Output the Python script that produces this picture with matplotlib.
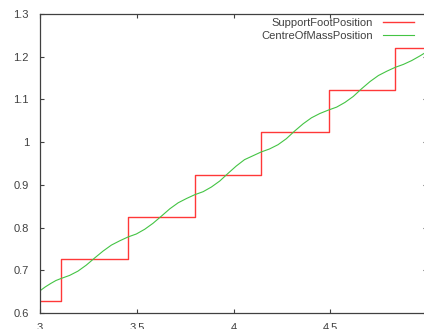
import matplotlib
matplotlib.use('Agg')
import matplotlib.pyplot as plt

plt.rcParams['font.family'] = ['Liberation Sans', 'DejaVu Sans']
plt.rcParams['font.size'] = 8

# support foot: step positions and levels
foot_x = [3.0, 3.109, 3.457, 3.801, 4.144, 4.491, 4.836, 5.0]
foot_y = [0.629, 0.727, 0.825, 0.923, 1.023, 1.122, 1.220, 1.220]

# centre of mass trajectory
com_x = [3.000, 3.027, 3.055, 3.082,
         3.110, 3.153, 3.196, 3.239, 3.283, 3.326, 3.369, 3.412,
         3.455, 3.498, 3.541, 3.584, 3.628, 3.671, 3.714, 3.757,
         3.800, 3.843, 3.886, 3.929, 3.972, 4.014, 4.057, 4.100,
         4.143, 4.186, 4.230, 4.273, 4.316, 4.360, 4.403, 4.446,
         4.490, 4.533, 4.576, 4.619, 4.662, 4.706, 4.749, 4.792,
         4.835, 4.878, 4.921, 4.964, 5.000]
com_y = [0.652, 0.661, 0.669, 0.676,
         0.681, 0.688, 0.698, 0.712, 0.729, 0.745, 0.759, 0.769,
         0.778, 0.785, 0.796, 0.810, 0.827, 0.844, 0.858, 0.868,
         0.877, 0.884, 0.895, 0.909, 0.927, 0.944, 0.959, 0.968,
         0.977, 0.984, 0.994, 1.008, 1.026, 1.043, 1.057, 1.067,
         1.075, 1.082, 1.093, 1.107, 1.125, 1.142, 1.156, 1.166,
         1.175, 1.182, 1.191, 1.202, 1.212]

xticks = [3, 3.5, 4, 4.5, 5]
xtick_labels = ['3', '3.5', '4', '4.5', '5']
yticks = [0.6, 0.7, 0.8, 0.9, 1.0, 1.1, 1.2, 1.3]
ytick_labels = ['0.6', '0.7', '0.8', '0.9', '1', '1.1', '1.2', '1.3']

W, H = 424, 329
fig = plt.figure(figsize=(W / 100, H / 100), dpi=100)
ax = fig.add_axes([40 / W, 16 / H, (427 - 40) / W, (313 - 14) / H])

ax.plot(foot_x, foot_y, drawstyle='steps-post', color='#ff3838', lw=1.0,
        label='SupportFootPosition')
ax.plot(com_x, com_y, color='#44c444', lw=0.8, label='CentreOfMassPosition')

ax.set_xlim(3, 5)
ax.set_ylim(0.6, 1.3)
ax.set_xticks(xticks)
ax.set_xticklabels(xtick_labels)
ax.set_yticks(yticks)
ax.set_yticklabels(ytick_labels)

for s in ax.spines.values():
    s.set_color('#404040')
    s.set_linewidth(0.9)
ax.tick_params(direction='in', length=3, width=0.8, color='#404040',
               labelcolor='#404040', top=True, right=True)
ax.tick_params(axis='x', pad=7)
ax.tick_params(axis='y', pad=8)

ax.legend(loc='upper right', bbox_to_anchor=(414 / W, 1 - 18 / H),
          bbox_transform=fig.transFigure, frameon=False, markerfirst=False,
          borderpad=0, borderaxespad=0, handlelength=2.8, handletextpad=0.9,
          labelspacing=0.3, labelcolor='#404040')

fig.savefig('out.png', dpi=100)
